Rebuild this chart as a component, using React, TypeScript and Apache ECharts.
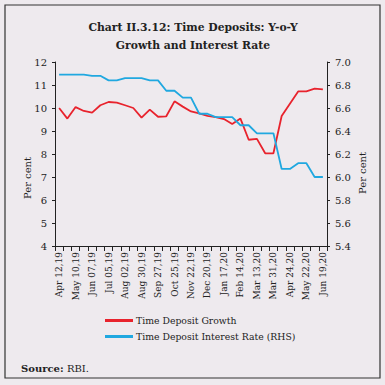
import React, { useEffect, useRef } from "react";
import * as echarts from "echarts";

const categories = [
  "Apr 12,19", "Apr 26,19", "May 10,19", "May 24,19", "Jun 07,19", "Jun 21,19",
  "Jul 05,19", "Jul 19,19", "Aug 02,19", "Aug 16,19", "Aug 30,19", "Sep 13,19",
  "Sep 27,19", "Oct 11,19", "Oct 25,19", "Nov 08,19", "Nov 22,19", "Dec 06,19",
  "Dec 20,19", "Jan 03,20", "Jan 17,20", "Jan 31,20", "Feb 14,20", "Feb 28,20",
  "Mar 13,20", "Mar 27,20", "Mar 31,20", "Apr 10,20", "Apr 24,20", "May 08,20",
  "May 22,20", "Jun 05,20", "Jun 19,20",
];

const depositGrowth = [
  10.0, 9.54, 10.04, 9.87, 9.8, 10.12, 10.26, 10.23, 10.12, 10.0, 9.58, 9.93,
  9.62, 9.64, 10.29, 10.06, 9.85, 9.77, 9.66, 9.6, 9.52, 9.3, 9.54, 8.62,
  8.66, 8.03, 8.03, 9.65, 10.19, 10.72, 10.72, 10.84, 10.81,
];

const interestRate = [
  6.89, 6.89, 6.89, 6.89, 6.88, 6.88, 6.84, 6.84, 6.86, 6.86, 6.86, 6.84,
  6.84, 6.75, 6.75, 6.69, 6.69, 6.55, 6.55, 6.52, 6.52, 6.52, 6.45, 6.45,
  6.38, 6.38, 6.38, 6.07, 6.07, 6.12, 6.12, 6.0, 6.0,
];

const seriesNames = ["Time Deposit Growth", "Time Deposit Interest Rate (RHS)"];
const titleLines = ["Chart II.3.12: Time Deposits: Y-o-Y", "Growth and Interest Rate"];

const FONT = "'DejaVu Serif', serif";
const RED = "#E8232D";
const BLUE = "#20A8E0";
const INK = "#222";

export default function App() {
  const ref = useRef<HTMLDivElement>(null);
  useEffect(() => {
    document.body.style.margin = "0";
    const chart = echarts.init(ref.current!, null, { renderer: "svg" });
    const axisLine = { show: true, lineStyle: { color: INK, width: 1 } };
    chart.setOption({
      animation: false,
      backgroundColor: "#EEEAEE",
      grid: { left: 55, right: 58, top: 62, bottom: 139 },
      xAxis: {
        type: "category",
        data: categories,
        boundaryGap: true,
        axisLine,
        axisTick: { show: true, interval: 0, length: 5, lineStyle: { color: INK } },
        axisLabel: {
          interval: 1,
          rotate: 90,
          fontFamily: FONT,
          fontSize: 9,
          color: INK,
          margin: 6,
        },
        splitLine: { show: false },
      },
      yAxis: [
        {
          type: "value",
          min: 4,
          max: 12,
          interval: 1,
          position: "left",
          axisLine,
          axisTick: { show: true, length: 3, lineStyle: { color: INK } },
          axisLabel: { fontFamily: FONT, fontSize: 10, color: INK, margin: 8 },
          splitLine: { show: false },
        },
        {
          type: "value",
          min: 5.4,
          max: 7.0,
          interval: 0.2,
          position: "right",
          axisLine,
          axisTick: { show: true, length: 3, lineStyle: { color: INK } },
          axisLabel: {
            fontFamily: FONT,
            fontSize: 10,
            color: INK,
            margin: 8,
            formatter: (v: number) => v.toFixed(1),
          },
          splitLine: { show: false },
        },
      ],
      legend: {
        orient: "vertical",
        left: 100,
        top: 311,
        itemWidth: 28,
        itemHeight: 3,
        itemGap: 7,
        icon: "rect",
        textStyle: { fontFamily: FONT, fontSize: 9.3, color: INK, padding: [0, 0, 0, -2] },
        data: seriesNames,
      },
      series: [
        {
          name: seriesNames[0],
          type: "line",
          yAxisIndex: 0,
          data: depositGrowth,
          showSymbol: false,
          symbol: "none",
          lineStyle: { color: RED, width: 1.8 },
          itemStyle: { color: RED },
        },
        {
          name: seriesNames[1],
          type: "line",
          yAxisIndex: 1,
          data: interestRate,
          showSymbol: false,
          symbol: "none",
          lineStyle: { color: BLUE, width: 1.8 },
          itemStyle: { color: BLUE },
        },
      ],
      graphic: [
        {
          type: "rect",
          shape: { x: 5, y: 5, width: 375, height: 373 },
          style: { fill: "none", stroke: "#333", lineWidth: 1.2 },
          silent: true,
        },
        {
          type: "text",
          x: 193,
          y: 27,
          style: {
            text: titleLines[0],
            font: `bold 10.8px ${FONT}`,
            fill: INK,
            align: "center",
            verticalAlign: "middle",
          },
        },
        {
          type: "text",
          x: 193,
          y: 45,
          style: {
            text: titleLines[1],
            font: `bold 10.8px ${FONT}`,
            fill: INK,
            align: "center",
            verticalAlign: "middle",
          },
        },
        {
          type: "text",
          x: 27,
          y: 178,
          rotation: Math.PI / 2,
          style: {
            text: "Per cent",
            font: `10px ${FONT}`,
            fill: INK,
            align: "center",
            verticalAlign: "middle",
          },
        },
        {
          type: "text",
          x: 362,
          y: 173,
          rotation: Math.PI / 2,
          style: {
            text: "Per cent",
            font: `10px ${FONT}`,
            fill: INK,
            align: "center",
            verticalAlign: "middle",
          },
        },
        {
          type: "text",
          x: 21,
          y: 368,
          style: {
            text: "{b|Source:} {n|RBI.}",
            verticalAlign: "middle",
            rich: {
              b: { fontFamily: FONT, fontWeight: "bold", fontSize: 10, fill: INK },
              n: { fontFamily: FONT, fontSize: 10, fill: INK },
            },
          },
        },
      ],
    });
    return () => chart.dispose();
  }, []);
  return <div ref={ref} style={{ width: 385, height: 385 }} />;
}
